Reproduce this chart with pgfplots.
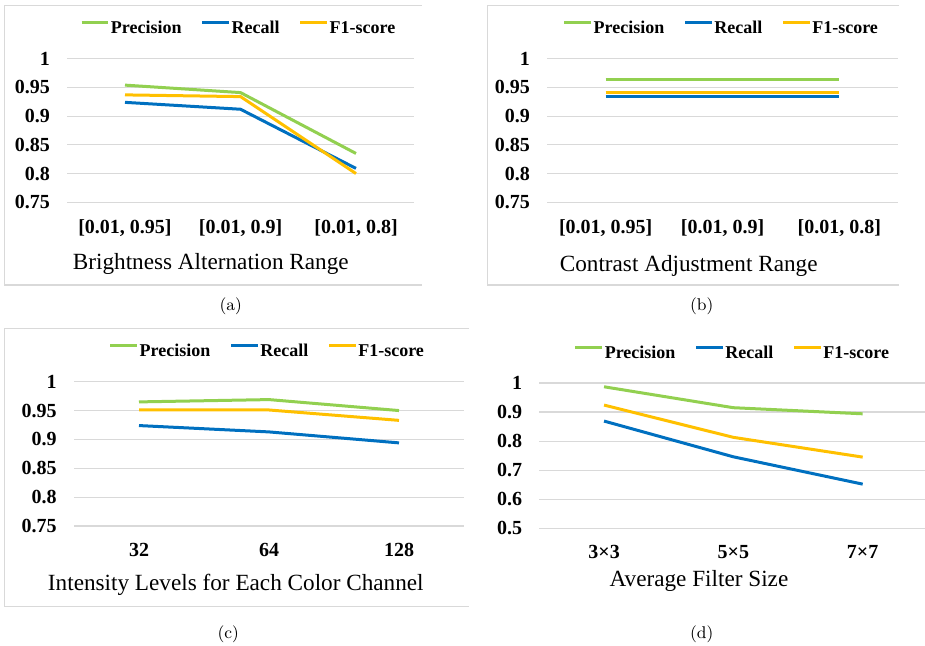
\documentclass[border=0pt]{standalone}
\usepackage{fontspec}
\usepackage{pgfplots}
\pgfplotsset{compat=1.18}
\newfontfamily\tnr{Liberation Serif}
\definecolor{cgreen}{HTML}{92D050}
\definecolor{cblue}{HTML}{0070C0}
\definecolor{corange}{HTML}{FFC000}
\definecolor{gridgray}{HTML}{D9D9D9}
\pgfplotsset{
  panel/.style={
    scale only axis,
    axis line style={draw=none},
    major tick style={draw=none},
    ymajorgrids,
    grid style={draw=gridgray, line width=0.6pt},
    xmin=-0.5, xmax=2.5,
    xtick={0,1,2},
    /pgf/number format/assume math mode=true,
    ticklabel style={font=\tnr\bfseries\fontsize{10}{12}\selectfont},
    yticklabel style={inner sep=0pt, anchor=east, xshift=-8.5pt},
    xticklabel style={inner sep=0pt, anchor=base, yshift=-15.5pt},
    legend columns=3,
    legend style={draw=none, fill=none, anchor=center,
      font=\tnr\bfseries\fontsize{9}{11}\selectfont,
      /tikz/every even column/.append style={column sep=9pt},
      nodes={inner sep=0.6pt}},
    legend image code/.code={\draw[#1,line width=1.5pt] (0pt,3.3pt) -- (13.3pt,3.3pt);},
    every axis plot/.append style={line width=1.5pt},
  }
}
\begin{document}
\begin{tikzpicture}[x=0.5pt,y=-0.5pt]
\useasboundingbox (0,0) rectangle (925,646);
% panel frames
\draw[gridgray, line width=0.6pt] (421.7,5.3) -- (4.7,5.3) -- (4.7,285) -- (421.7,285);
\draw[gridgray, line width=0.6pt] (899,5.3) -- (487.3,5.3) -- (487.3,285) -- (899,285);
\draw[gridgray, line width=0.6pt] (469,328.3) -- (4.7,328.3) -- (4.7,606.7) -- (469,606.7);

% (a)
\begin{axis}[panel, at={(33.625pt,-101.15pt)}, anchor=south west,
  width=173.25pt, height=71.8pt,
  ymin=0.75, ymax=1, ytick={0.75,0.8,0.85,0.9,0.95,1},
  yticklabels={0.75,0.8,0.85,0.9,0.95,1},
  xticklabels={{[0.01, 0.95]},{[0.01, 0.9]},{[0.01, 0.8]}},
  legend style={at={(0.4937,1)}, yshift=14.75pt}]
\addplot[cgreen] coordinates {(0,0.954) (1,0.941) (2,0.835)};
\addplot[cblue] coordinates {(0,0.924) (1,0.912) (2,0.809)};
\addplot[corange] coordinates {(0,0.937) (1,0.934) (2,0.800)};
\legend{Precision,Recall,F1-score}
\end{axis}

% (b)
\begin{axis}[panel, at={(273.65pt,-101.15pt)}, anchor=south west,
  width=175.2pt, height=71.8pt,
  ymin=0.75, ymax=1, ytick={0.75,0.8,0.85,0.9,0.95,1},
  yticklabels={0.75,0.8,0.85,0.9,0.95,1},
  xticklabels={{[0.01, 0.95]},{[0.01, 0.9]},{[0.01, 0.8]}},
  legend style={at={(0.4957,1)}, yshift=14.75pt}]
\addplot[cgreen] coordinates {(0,0.963) (1,0.963) (2,0.963)};
\addplot[cblue] coordinates {(0,0.934) (1,0.934) (2,0.934)};
\addplot[corange] coordinates {(0,0.941) (1,0.941) (2,0.941)};
\legend{Precision,Recall,F1-score}
\end{axis}

% (c)
\begin{axis}[panel, at={(37pt,-263pt)}, anchor=south west,
  width=195pt, height=72.15pt,
  ymin=0.75, ymax=1, ytick={0.75,0.8,0.85,0.9,0.95,1},
  yticklabels={0.75,0.8,0.85,0.9,0.95,1},
  xticklabels={32,64,128},
  xticklabel style={yshift=0.5pt},
  legend style={at={(0.4949,1)}, yshift=14.95pt}]
\addplot[cgreen] coordinates {(0,0.965) (1,0.969) (2,0.950)};
\addplot[cblue] coordinates {(0,0.924) (1,0.913) (2,0.894)};
\addplot[corange] coordinates {(0,0.951) (1,0.951) (2,0.933)};
\legend{Precision,Recall,F1-score}
\end{axis}

% (d)
\begin{axis}[panel, at={(269.7pt,-264.15pt)}, anchor=south west,
  width=192.8pt, height=72.65pt, xmax=2.482,
  ymin=0.5, ymax=1, ytick={0.5,0.6,0.7,0.8,0.9,1},
  yticklabels={0.5,0.6,0.7,0.8,0.9,1},
  xticklabels={3×3,5×5,7×7},
  xticklabel style={yshift=0.5pt},
  legend style={at={(0.4997,1)}, yshift=14.4pt}]
\addplot[cgreen] coordinates {(0,0.987) (1,0.915) (2,0.894)};
\addplot[cblue] coordinates {(0,0.869) (1,0.746) (2,0.652)};
\addplot[corange] coordinates {(0,0.924) (1,0.813) (2,0.745)};
\legend{Precision,Recall,F1-score}
\end{axis}

% axis titles
\begin{scope}[every node/.style={font=\tnr\fontsize{11.6}{13}\selectfont, anchor=base, inner sep=0pt}]
\node at (210.8,270) {Brightness Alternation Range};
\node at (688.7,271.7) {Contrast Adjustment Range};
\node at (235.8,590) {Intensity Levels for Each Color Channel};
\node at (699,586.7) {Average Filter Size};
\end{scope}

% captions
\begin{scope}[every node/.style={font=\fontsize{8.5}{10}\selectfont, anchor=base, inner sep=0pt}]
\node at (230.7,310.8) {(a)};
\node at (701.7,310.8) {(b)};
\node at (228.3,638.8) {(c)};
\node at (701.7,638.8) {(d)};
\end{scope}
\end{tikzpicture}
\end{document}
